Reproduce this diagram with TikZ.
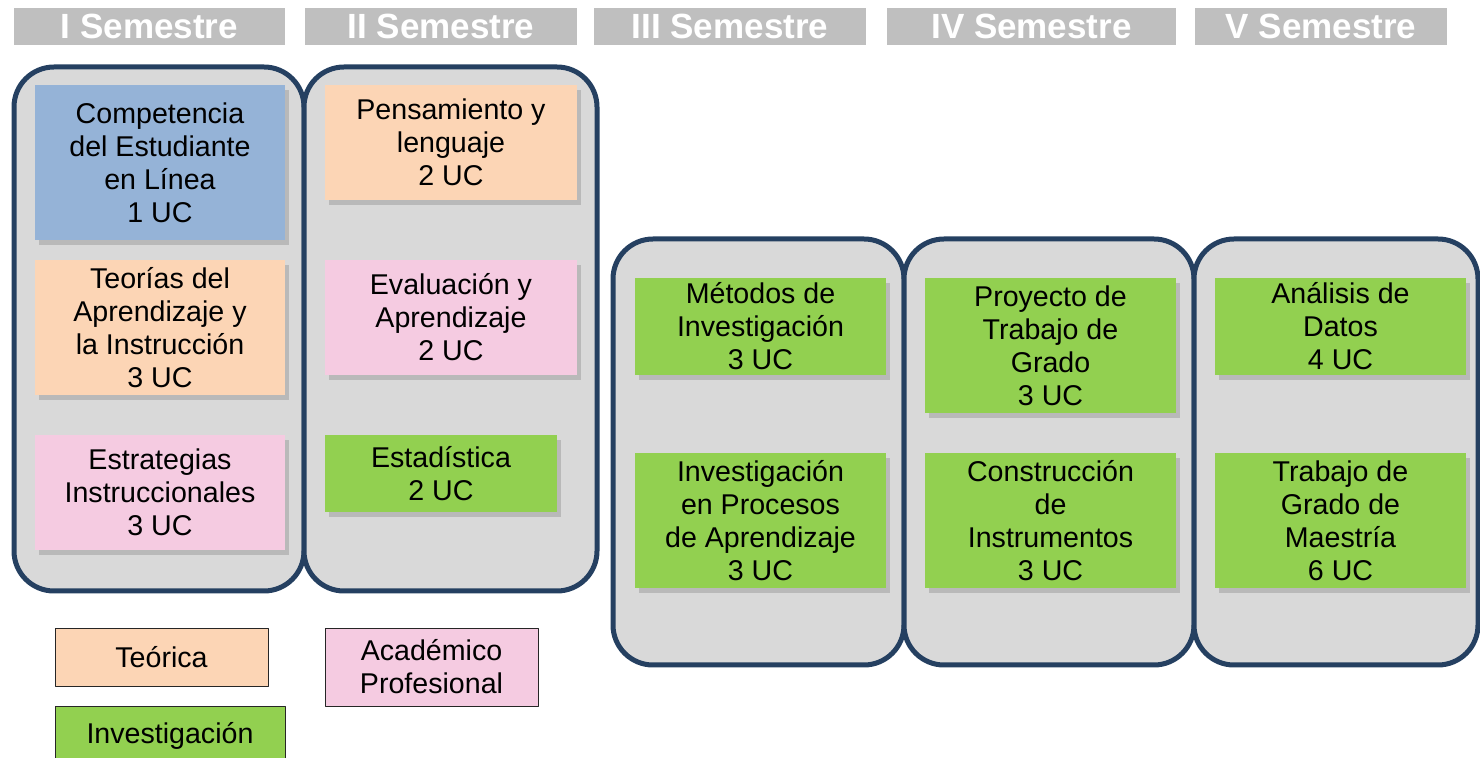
\documentclass[tikz,border=0pt]{standalone}
\usepackage{fontspec}
\setmainfont{Liberation Sans}
\usetikzlibrary{shadows}

\definecolor{headgray}{HTML}{BFBFBF}
\definecolor{semgray}{HTML}{D9D9D9}
\definecolor{semnavy}{HTML}{254061}
\definecolor{cblue}{HTML}{95B3D7}
\definecolor{corange}{HTML}{FCD5B5}
\definecolor{cpink}{HTML}{F5CBE1}
\definecolor{cgreen}{HTML}{92D050}

\begin{document}
\begin{tikzpicture}[
            x = 0.5pt, y = -0.5pt, % one unit = one pixel of the plan
            font = \fontsize{14.3}{16.5}\selectfont, % text in the boxes
            line join = round
        ]

        \tikzstyle{head}=[
            fill = headgray,
            text = white,
            font = \bfseries\fontsize{17.5}{20}\selectfont,
            minimum height = 18.5pt,
            inner sep = 0pt
        ]
        \tikzstyle{sem}=[
            draw = semnavy,
            line width = 2.5pt,
            fill = semgray,
            rounded corners = 20pt
        ]
        \tikzstyle{course}=[
            align = center,
            inner sep = 0pt,
            drop shadow = {shadow xshift=2pt, shadow yshift=-2.5pt, opacity=0.35}
        ]
        \tikzstyle{legend}=[
            draw = black!85,
            thin,
            align = center,
            inner sep = 0pt
        ]

	\useasboundingbox (0,0) rectangle (1480,758);
	\clip (0,0) rectangle (1480,758);

	% semester headings
	\node[head, minimum width=135.5pt] (h1) at (149.5,26.5) {I Semestre};
	\node[head, minimum width=136pt] (h2) at (441,26.5) {II Semestre};
	\node[head, minimum width=136pt] (h3) at (730,26.5) {III Semestre};
	\node[head, minimum width=144.5pt] (h4) at (1031.5,26.5) {IV Semestre};
	\node[head, minimum width=126pt] (h5) at (1321,26.5) {V Semestre};

	% semester frames
	\draw[sem] (14,67) rectangle (304,591);
	\draw[sem] (304,67) rectangle (597,591);
	\draw[sem] (613,239) rectangle (904,665);
	\draw[sem] (904,239) rectangle (1194,665);
	\draw[sem] (1194,239) rectangle (1478,665);

	% I Semestre
	\node[course, fill=cblue, minimum width=125pt, minimum height=77.5pt] (competencia) at (160,162.5)
	    {Competencia\\del Estudiante\\en Línea\\1 UC};
	\node[course, fill=corange, minimum width=125pt, minimum height=67.5pt] (teorias) at (160,327.5)
	    {Teorías del\\Aprendizaje y\\la Instrucción\\3 UC};
	\node[course, fill=cpink, minimum width=125pt, minimum height=57.5pt] (estrategias) at (160,492.5)
	    {Estrategias\\Instruccionales\\3 UC};

	% II Semestre
	\node[course, fill=corange, minimum width=126pt, minimum height=57.5pt] (pensamiento) at (451,142.5)
	    {Pensamiento y\\lenguaje\\2 UC};
	\node[course, fill=cpink, minimum width=126pt, minimum height=57.5pt] (evaluacion) at (451,317.5)
	    {Evaluación y\\Aprendizaje\\2 UC};
	\node[course, fill=cgreen, minimum width=116pt, minimum height=38.5pt] (estadistica) at (441,473.5)
	    {Estadística\\2 UC};

	% III Semestre
	\node[course, fill=cgreen, minimum width=125.5pt, minimum height=48.5pt] (metodos) at (760.5,326.5)
	    {Métodos de\\Investigación\\3 UC};
	\node[course, fill=cgreen, minimum width=125.5pt, minimum height=67.5pt] (procesos) at (760.5,520.5)
	    {Investigación\\en Procesos\\de Aprendizaje\\3 UC};

	% IV Semestre
	\node[course, fill=cgreen, minimum width=125.5pt, minimum height=67.5pt] (proyecto) at (1050.5,345.5)
	    {Proyecto de\\Trabajo de\\Grado\\3 UC};
	\node[course, fill=cgreen, minimum width=125.5pt, minimum height=67.5pt] (construccion) at (1050.5,520.5)
	    {Construcción\\de\\Instrumentos\\3 UC};

	% V Semestre
	\node[course, fill=cgreen, minimum width=125.5pt, minimum height=48.5pt] (analisis) at (1340.5,326.5)
	    {Análisis de\\Datos\\4 UC};
	\node[course, fill=cgreen, minimum width=125.5pt, minimum height=67.5pt] (trabajo) at (1340.5,520.5)
	    {Trabajo de\\Grado de\\Maestría\\6 UC};

	% legend
	\node[legend, fill=corange, minimum width=106.5pt, minimum height=29pt] (teorica) at (161.5,657) {Teórica};
	\node[legend, fill=cpink, minimum width=106.5pt, minimum height=39pt] (academico) at (431.5,667)
	    {Académico\\Profesional};
	\node[legend, fill=cgreen, minimum width=115pt, minimum height=30pt] (investigacion) at (170,736) {Investigación};

    \end{tikzpicture}
\end{document}
